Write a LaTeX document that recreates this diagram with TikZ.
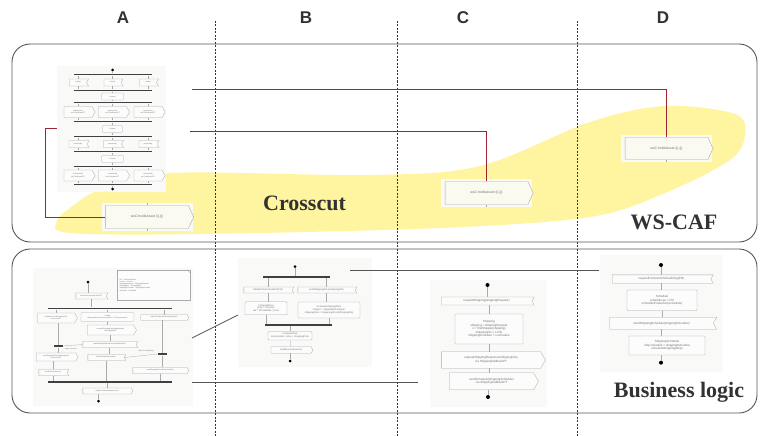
\documentclass[tikz,border=0pt]{standalone}
\usepackage{fontspec}
\setmainfont{Liberation Serif}
\setsansfont{Liberation Sans}
\usetikzlibrary{shapes.symbols,calc}

\definecolor{framegray}{RGB}{85,85,85}
\definecolor{blobyellow}{RGB}{255,245,160}
\definecolor{linkred}{RGB}{160,35,50}
\definecolor{shotbg}{RGB}{249,249,247}
\definecolor{boxline}{RGB}{170,170,170}
\definecolor{boxfill}{RGB}{252,252,252}
\definecolor{smalltxt}{RGB}{110,110,110}
\definecolor{creamfill}{RGB}{251,250,240}
\definecolor{labeltxt}{RGB}{50,50,50}

\newcommand{\tinyA}{\sffamily\fontsize{1.8}{2.2}\selectfont}
\newcommand{\tinyB}{\sffamily\fontsize{2.4}{2.9}\selectfont}
\newcommand{\tinyC}{\sffamily\fontsize{3}{3.6}\selectfont}

\tikzset{
  panel/.style={draw=framegray, line width=0.9pt, rounded corners=18pt},
  colsep/.style={draw=black!80, line width=0.5pt, dash pattern=on 2pt off 1.5pt},
  uml/.style={draw=boxline, fill=boxfill, line width=0.3pt, inner sep=0pt,
    text=smalltxt, align=center},
  act/.style={uml, rectangle, rounded corners=1pt},
  snd/.style={uml, signal, signal to=east, signal pointer angle=120},
  rcv/.style={uml, signal, signal to=nowhere, signal from=east, signal pointer angle=120},
  bar/.style={rectangle, fill=black!75, draw=none, inner sep=0pt, minimum height=1.8pt},
  jbar/.style={bar, minimum height=2.6pt, minimum width=9pt},
  dot/.style={circle, fill=black, inner sep=0pt, minimum size=3pt},
  flow/.style={draw=boxline, line width=0.3pt},
  redlink/.style={draw=linkred, line width=0.8pt},
  graylink/.style={draw=framegray, line width=0.8pt},
  wsnode/.style={draw=boxline, fill=creamfill, line width=0.4pt, signal, signal to=east,
    signal pointer angle=130, inner sep=0pt, font=\sffamily\fontsize{3.4}{4}\selectfont,
    text=smalltxt, minimum width=88pt, minimum height=23pt},
  collabel/.style={font=\sffamily\bfseries\fontsize{17}{19}\selectfont, text=labeltxt},
  biglabel/.style={font=\bfseries\fontsize{22}{24}\selectfont, text=labeltxt},
}

\begin{document}
\begin{tikzpicture}[x=1pt,y=-1pt]
\useasboundingbox (0,0) rectangle (763,436);
\fill[white] (0,0) rectangle (763,436);

% column headings
\node[collabel] (colA) at (123,18) {A};
\node[collabel] (colB) at (306,18) {B};
\node[collabel] (colC) at (463,18) {C};
\node[collabel] (colD) at (663,18) {D};

% highlighted crosscutting region
\fill[blobyellow] plot[smooth cycle, tension=0.55] coordinates {
  (57,221) (74,205) (100,190) (170,173) (370,175) (480,166) (590,122)
  (665,106) (735,114) (745,135) (730,160) (665,193) (590,217) (440,228)
  (200,234) (70,233)};

% the two panels
\draw[panel] (12,44) rectangle (757,242);
\draw[panel] (12,249) rectangle (757,413);

% column separators
\foreach \x in {215,397,577} \draw[colsep] (\x,21) -- (\x,436);

% ---------------- crosscut: coordination flow -----------------
\fill[shotbg] (57,66) rectangle (166,192);
\begin{scope}[every node/.append style={font=\tinyA}]
\node[dot] (td1) at (112.5,70) {};
\foreach \i/\y in {1/74.5,2/90.5,3/102.5,4/121.5,5/136.5,6/151.5,7/166.5,8/184.5}
  \node[bar, minimum width=78pt] (tb\i) at (113,\y) {};
\node[dot] (td2) at (112.5,189) {};
\foreach \c/\x in {a/78,b/112.5,c/148} {
  \node[rcv, minimum width=19pt, minimum height=7pt] (r1\c) at (\x,82.5) {enlist()};
  \node[snd, minimum width=31pt, minimum height=11pt] (r2\c) at (\x,112) {register(ctx)\\via CoordinatorPT};
  \node[rcv, minimum width=20pt, minimum height=7pt] (r3\c) at (\x,144) {prepared()};
  \node[snd, minimum width=31pt, minimum height=11pt] (r4\c) at (\x,175.5) {committed()\\via ParticipantPT};
  \draw[flow] (r1\c.north |- tb1.south) -- (r1\c.north);
  \draw[flow] (r1\c.south) -- (r1\c.south |- tb2.north);
  \draw[flow] (r2\c.north |- tb3.south) -- (r2\c.north);
  \draw[flow] (r2\c.south) -- (r2\c.south |- tb4.north);
  \draw[flow] (r3\c.north |- tb5.south) -- (r3\c.north);
  \draw[flow] (r3\c.south) -- (r3\c.south |- tb6.north);
  \draw[flow] (r4\c.north |- tb7.south) -- (r4\c.north);
  \draw[flow] (r4\c.south) -- (r4\c.south |- tb8.north);
}
\node[act, minimum width=22pt, minimum height=7pt] (t1) at (112.5,96.5) {Context};
\node[act, minimum width=20pt, minimum height=7pt] (t2) at (112.5,129) {Prepare};
\node[act, minimum width=22pt, minimum height=7pt] (t3) at (112.5,159) {Commit};
\draw[flow] (td1) -- (td1 |- tb1.north);
\draw[flow] (t1.north |- tb2.south) -- (t1.north);
\draw[flow] (t1.south) -- (t1.south |- tb3.north);
\draw[flow] (t2.north |- tb4.south) -- (t2.north);
\draw[flow] (t2.south) -- (t2.south |- tb5.north);
\draw[flow] (t3.north |- tb6.south) -- (t3.north);
\draw[flow] (t3.south) -- (t3.south |- tb7.north);
\draw[flow] (td2 |- tb8.south) -- (td2);
\end{scope}

% WS-CAF assertion actions
\fill[shotbg] (102,203) rectangle (193,231);
\node[wsnode] (wsA) at (147,217) {wsC:holdsAsset (i),(j)};
\fill[shotbg] (441,179) rectangle (532,207);
\node[wsnode] (wsC) at (486.5,193) {wsC:holdsAsset (i),(j)};
\fill[shotbg] (621,135) rectangle (712,162);
\node[wsnode, minimum height=22pt] (wsD) at (666.5,148.5) {wsC:holdsAsset (i),(j)};
\foreach \n in {wsA,wsC,wsD} {
  \draw[flow] (\n.north) -- ++(0,-2);
  \draw[flow] (\n.south) -- ++(0,2);
}

% crosscut links
\coordinate (tlA) at (57,128);
\coordinate (tlB) at (192,89);
\coordinate (tlC) at (190,131);
\draw[redlink] (tlA) -- ++(-12,0) |- (wsA.west);
\draw[redlink] (tlB) -| (wsD.north);
\draw[redlink] (tlC) -| (wsC.north);

\node[biglabel] (lblCross) at (304.5,203) {Crosscut};
\node[biglabel] (lblCaf) at (674,222) {WS-CAF};

% ---------------- business logic: column A -----------------
\fill[shotbg] (33,268) rectangle (193,406);
\begin{scope}[every node/.append style={font=\tinyA}]
\node[draw=boxline, fill=boxfill, line width=0.3pt, minimum width=73pt, minimum height=30pt,
  text=smalltxt, align=left, inner sep=1.5pt, text width=68pt] (noteA) at (153.5,285)
  {PO : PurchaseOrder\\ invoice : Invoice\\ shippingRequest : ShippingRequest\\
   shippingInfo : ShippingInfo\\ shippingSchedule : ShippingSchedule\\ schedule : Schedule};
\draw[flow] ($(noteA.north east)+(-3,0)$) -- ($(noteA.north east)+(0,3)$);
\node[dot] (ad1) at (88,282) {};
\node[rcv, minimum width=32pt, minimum height=6pt] (a1) at (91,296) {receivePurchaseOrder(PO)};
\node[bar, minimum width=124pt] (ab1) at (110,308.5) {};
\node[snd, minimum width=40pt, minimum height=10pt] (a2) at (56,318) {initiatePriceCalculation(PO)\\via InvoicePT};
\node[act, minimum width=53pt, minimum height=9pt] (a3) at (107.5,317) {assign\\shippingRequest.customerInfo = PO.customerInfo};
\node[snd, minimum width=48pt, minimum height=5.5pt] (a4) at (164,317.5) {requestProductionScheduling(PO)};
\node[snd, minimum width=49pt, minimum height=10pt] (a5) at (110.5,330) {requestShipping(shippingRequest)\\via ShippingPT};
\node[rcv, minimum width=55pt, minimum height=6pt] (a6) at (109.5,344.5) {requestShippingResponse(shippingInfo)};
\node[jbar] (ajl) at (58,346) {};
\node[text=smalltxt] (ajlt) at (71,349.5) {ship-to-invoice};
\node[jbar] (ajr) at (162.5,354) {};
\node[text=smalltxt] (ajrt) at (146,351) {ship-to-scheduling};
\node[snd, minimum width=42pt, minimum height=8pt] (a7) at (56,357) {sendShippingPrice(shippingInfo)\\via InvoicePT};
\node[rcv, minimum width=38pt, minimum height=6pt] (a8) at (106,357.5) {sendSchedule(schedule)};
\node[rcv, minimum width=30pt, minimum height=6pt] (a9) at (53,372.5) {sendInvoice(invoice)};
\node[snd, minimum width=56pt, minimum height=6pt] (a10) at (160,370.5) {sendShippingSchedule(schedule)};
\node[bar, minimum width=124pt] (ab2) at (110,382.3) {};
\node[snd, minimum width=50pt, minimum height=6pt] (a11) at (107,391) {replyPurchaseOrder(invoice)};
\node[dot] (ad2) at (98.5,401) {};
\draw[flow] (ad1) -- (a1.north -| ad1);
\draw[flow] (a1.south) -- (a1.south |- ab1.north);
\draw[flow] (a2.north |- ab1.south) -- (a2.north);
\draw[flow] (a3.north |- ab1.south) -- (a3.north);
\draw[flow] (a4.north |- ab1.south) -- (a4.north);
\draw[flow] (a2.south -| ajl) -- (ajl);
\draw[flow] (ajl) -- (a7.north -| ajl);
\draw[flow] (a3.south) -- (a5.north -| a3.south);
\draw[flow] (a5.south) -- (a6.north -| a5.south);
\draw[flow] (a6.south) -- (a8.north -| a6.south);
\draw[flow] (a6.west) -- (ajl.east);
\draw[flow] (a8.east) -- (ajr.west);
\draw[flow] (a4.south -| ajr) -- (ajr);
\draw[flow] (ajr) -- (a10.north -| ajr);
\draw[flow] (a7.south -| a9) -- (a9.north);
\draw[flow] (a9.south) -- (a9.south |- ab2.north);
\draw[flow] (a8.south) -- (a8.south |- ab2.north);
\draw[flow] (a10.south) -- (a10.south |- ab2.north);
\draw[flow] (a11.north |- ab2.south) -- (a11.north);
\draw[flow] (a11.south -| ad2) -- (ad2);
\end{scope}

% ---------------- business logic: column B -----------------
\fill[shotbg] (238,258) rectangle (372,367);
\begin{scope}[every node/.append style={font=\tinyB}]
\node[dot] (bd1) at (295,266.7) {};
\node[bar, minimum width=67pt] (bb1) at (296.5,276.7) {};
\node[rcv, minimum width=50pt, minimum height=6pt] (b1) at (268,290) {initiatePriceCalculation(PO)};
\node[rcv, minimum width=59pt, minimum height=6pt] (b2) at (326.5,290) {sendShippingPrice(shippingInfo)};
\node[act, minimum width=42pt, minimum height=13pt] (b3) at (266,308.3) {ComputePrice\\price = PO.price\\tax = PO.taxRate * price};
\node[act, minimum width=62pt, minimum height=16pt] (b4) at (329,310) {ComputeShippingPrice\\shipper = shippingInfo.shipper\\shippingPrice = shipper.getCost(shippingInfo)};
\node[bar, minimum width=67pt] (bb2) at (298.5,325) {};
\node[act, minimum width=44pt, minimum height=8.5pt] (b5) at (290,335.8) {ComputeTotal\\invoice.total = price + shippingPrice};
\node[snd, minimum width=42pt, minimum height=6.5pt] (b6) at (291,350) {sendInvoice(invoice)};
\node[dot] (bd2) at (290,361) {};
\draw[flow] (bd1) -- (bd1 |- bb1.north);
\draw[flow] (b1.north |- bb1.south) -- (b1.north);
\draw[flow] (b2.north |- bb1.south) -- (b2.north);
\draw[flow] (b1.south) -- (b3.north -| b1.south);
\draw[flow] (b2.south) -- (b4.north -| b2.south);
\draw[flow] (b3.south) -- (b3.south |- bb2.north);
\draw[flow] (b4.south) -- (b4.south |- bb2.north);
\draw[flow] (b5.north |- bb2.south) -- (b5.north);
\draw[flow] (b5.south) -- (b6.north);
\draw[flow] (b6.south -| bd2) -- (bd2);
\end{scope}

% ---------------- business logic: column C -----------------
\fill[shotbg] (430,280) rectangle (547,407);
\begin{scope}[every node/.append style={font=\tinyC}]
\node[dot, minimum size=4pt] (cd1) at (487.5,285) {};
\node[rcv, minimum width=93pt, minimum height=8pt] (c1) at (486.5,301) {requestShipping(shippingRequest)};
\node[act, minimum width=68pt, minimum height=30pt] (c2) at (489,329) {Shipping\\shipping = shippingRequest\\s = findShipper(shipping)\\shippingInfo = s.info\\shippingSchedule = s.schedule};
\node[snd, minimum width=104pt, minimum height=16.5pt] (c3) at (491,360) {requestShippingResponse(shippingInfo)\\via ShippingCallbackPT};
\node[snd, minimum width=89pt, minimum height=17pt] (c4) at (491.5,381.3) {sendSchedule(shippingSchedule)\\via ShippingCallbackPT};
\node[dot, minimum size=4pt] (cd2) at (488,397) {};
\draw[flow] (cd1) -- (c1.north -| cd1);
\draw[flow] (c1.south -| c2.north) -- (c2.north);
\draw[flow] (c2.south) -- (c3.north -| c2.south);
\draw[flow] (c3.south -| c2.south) -- (c4.north -| c2.south);
\draw[flow] (c4.south -| cd2) -- (cd2);
\end{scope}

% ---------------- business logic: column D -----------------
\fill[shotbg] (600,255) rectangle (723,372);
\begin{scope}[every node/.append style={font=\tinyC}]
\node[dot, minimum size=4pt] (dd1) at (661,265) {};
\node[rcv, minimum width=101pt, minimum height=8.3pt] (d1) at (661.5,279) {requestProductionScheduling(PO)};
\node[act, minimum width=70pt, minimum height=20.7pt] (d2) at (662,300.3) {Schedule\\schedule.po = PO\\scheduleProduction(schedule)};
\node[rcv, minimum width=107pt, minimum height=12pt] (d3) at (661.5,323.3) {sendShippingSchedule(shippingSchedule)};
\node[act, minimum width=76pt, minimum height=19pt] (d4) at (667,345.5) {ShippingSchedule\\ship.schedule = shippingSchedule\\scheduleShipping(ship)};
\node[dot, minimum size=4pt] (dd2) at (661,362.7) {};
\draw[flow] (dd1) -- (d1.north -| dd1);
\draw[flow] (d1.south) -- (d2.north -| d1.south);
\draw[flow] (d2.south) -- (d3.north -| d2.south);
\draw[flow] (d3.south) -- (d4.north -| d3.south);
\draw[flow] (d4.south -| dd2) -- (dd2);
\end{scope}

% links between the business-logic flows
\coordinate (gA1) at (192,338);
\coordinate (gB1) at (238,315);
\coordinate (gA2) at (192,382);
\coordinate (gC2) at (418,382);
\coordinate (gB3) at (350,270);
\coordinate (gD3) at (599,270);
\draw[graylink] (gA1) -- (gB1);
\draw[graylink] (gA2) -- (gC2);
\draw[graylink] (gB3) -- (gD3);

\node[biglabel] (lblBiz) at (679,392) {Business logic};

\end{tikzpicture}
\end{document}
